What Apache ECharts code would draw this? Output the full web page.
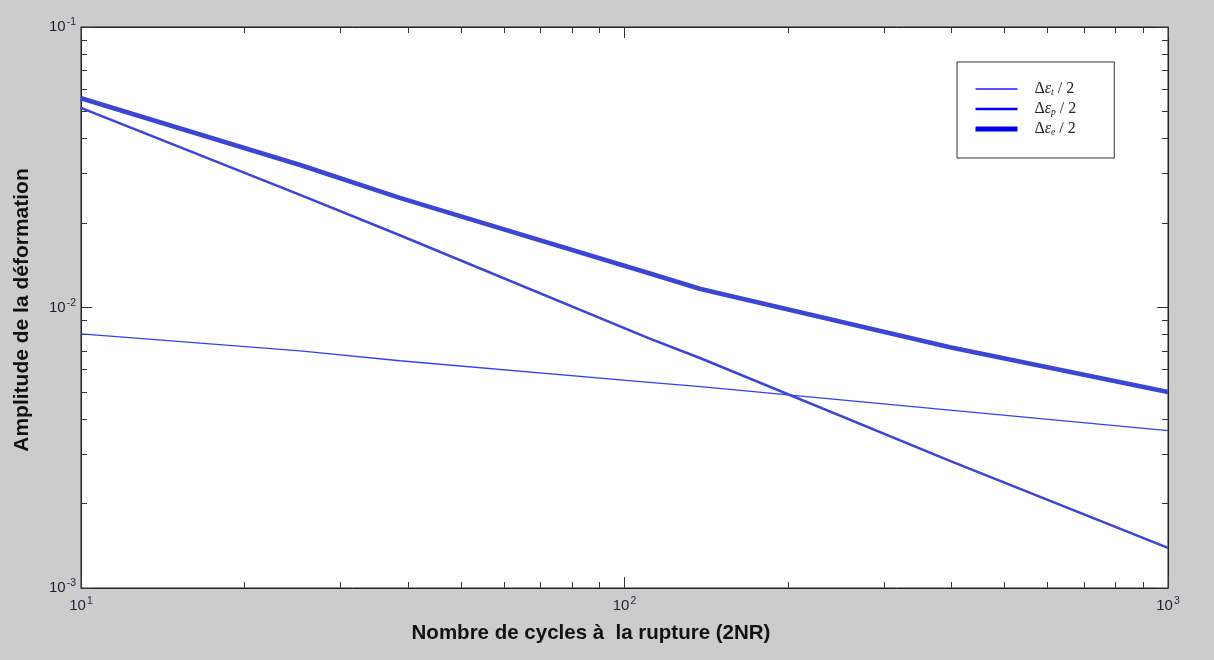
<!DOCTYPE html>
<html>
<head>
<meta charset="utf-8">
<script src="https://cdn.jsdelivr.net/npm/echarts@6/dist/echarts.min.js"></script>
<style>
  html, body { margin: 0; padding: 0; background: #cccccc; }
  #chart { width: 1214px; height: 660px; }
</style>
</head>
<body>
<div id="chart"></div>
<script>
// Number of cycles to failure (2NR) at sampled points
const cycles = [10, 25.3, 38.6, 111, 138, 397, 1000];
// Strain amplitude curves
const strainT = [0.00805, 0.00700, 0.00646, 0.00541, 0.00522, 0.00431, 0.00364];
const strainP = [0.0515, 0.0252, 0.0181, 0.00776, 0.00659, 0.00284, 0.00139];
const strainE = [0.0557, 0.0322, 0.0246, 0.01324, 0.01164, 0.00721, 0.00500];

const seriesNames = ['eps_t', 'eps_p', 'eps_e'];
const legendSub = { eps_t: 't', eps_p: 'p', eps_e: 'e' };

// Decade and minor tick positions
const xMajor = [10, 100, 1000];
const xMinor = [20, 30, 40, 50, 60, 70, 80, 90, 200, 300, 400, 500, 600, 700, 800, 900];
const yMajor = [0.001, 0.01, 0.1];
const yMinor = [0.002, 0.003, 0.004, 0.005, 0.006, 0.007, 0.008, 0.009,
                0.02, 0.03, 0.04, 0.05, 0.06, 0.07, 0.08, 0.09];

const pairs = (xs, ys) => xs.map((x, i) => [x, ys[i]]);

const labelFont = 'Liberation Sans, Arial, sans-serif';
const powLabel = v => {
  const e = Math.round(Math.log10(v));
  return '{b|10}{s|' + e + '}';
};
const powRich = {
  b: { fontSize: 15, fontFamily: labelFont, color: '#1f1f3a', lineHeight: 20, verticalAlign: 'middle' },
  s: { fontSize: 10.5, fontFamily: labelFont, color: '#1f1f3a', lineHeight: 10, verticalAlign: 'top', padding: [0, 0, 0, 1] }
};

function xAxisDef(position, major, showLabel, ticks, len) {
  return {
    type: 'log', logBase: 10, min: 10, max: 1000, position: position,
    axisLine: { show: major, lineStyle: { color: '#222', width: 1 } },
    axisTick: { show: true, inside: true, length: len, customValues: ticks,
                lineStyle: { color: '#333', width: 1 } },
    axisLabel: showLabel ? { show: true, margin: 8, formatter: powLabel, rich: powRich, customValues: xMajor }
                         : { show: false },
    splitLine: { show: false }, minorTick: { show: false }
  };
}
function yAxisDef(position, major, showLabel, ticks, len) {
  return {
    type: 'log', logBase: 10, min: 0.001, max: 0.1, position: position,
    axisLine: { show: major, lineStyle: { color: '#222', width: 1 } },
    axisTick: { show: true, inside: true, length: len, customValues: ticks,
                lineStyle: { color: '#333', width: 1 } },
    axisLabel: showLabel ? { show: true, margin: 5, formatter: powLabel, rich: powRich, customValues: yMajor }
                         : { show: false },
    splitLine: { show: false }, minorTick: { show: false }
  };
}

const chart = echarts.init(document.getElementById('chart'), null, { renderer: 'canvas' });

const serif = 'Liberation Serif, Times New Roman, serif';
const legendRich = {
  d: { fontFamily: serif, fontSize: 16, color: '#222', lineHeight: 16, verticalAlign: 'middle' },
  g: { fontFamily: serif, fontSize: 16, fontStyle: 'italic', color: '#222', lineHeight: 16, verticalAlign: 'middle' },
  u: { fontFamily: serif, fontSize: 9.5, fontStyle: 'italic', color: '#222', lineHeight: 10, verticalAlign: 'bottom' }
};
// legend keys show only the line stroke, no marker
const noMarker = { color: 'rgba(0,0,0,0)', opacity: 0, borderWidth: 0 };

chart.setOption({
  backgroundColor: '#cccccc',
  animation: false,
  grid: {
    left: 81, right: 46, top: 27, bottom: 72,
    show: true, backgroundColor: '#ffffff', borderColor: '#222', borderWidth: 1,
    containLabel: false
  },
  xAxis: [
    xAxisDef('bottom', true, true, xMajor, 11),
    xAxisDef('bottom', false, false, xMinor, 6),
    xAxisDef('top', true, false, xMajor, 11),
    xAxisDef('top', false, false, xMinor, 6)
  ],
  yAxis: [
    yAxisDef('left', true, true, yMajor, 11),
    yAxisDef('left', false, false, yMinor, 6),
    yAxisDef('right', true, false, yMajor, 11),
    yAxisDef('right', false, false, yMinor, 6)
  ],
  legend: {
    orient: 'vertical',
    left: 957, top: 62,
    padding: [19, 38, 21, 16],
    itemGap: 4,
    itemWidth: 42, itemHeight: 14,
    backgroundColor: '#ffffff',
    borderColor: '#333', borderWidth: 1,
    data: [
      { name: 'eps_t', itemStyle: noMarker, lineStyle: { color: '#1a1aff', width: 1.3 } },
      { name: 'eps_p', itemStyle: noMarker, lineStyle: { color: '#0000ee', width: 2.5 } },
      { name: 'eps_e', itemStyle: noMarker, lineStyle: { color: '#0000ee', width: 5 } }
    ],
    formatter: name => '{d|   Δ}{g|ε}{u|' + legendSub[name] + '}{d| / 2}',
    textStyle: { rich: legendRich },
    selectedMode: false
  },
  graphic: [
    {
      type: 'text',
      x: 591, y: 633,
      style: {
        text: 'Nombre de cycles à  la rupture (2NR)',
        fontFamily: 'Liberation Sans, Arial, sans-serif', fontWeight: 'bold', fontSize: 20.5,
        fill: '#111', align: 'center', verticalAlign: 'middle'
      }
    },
    {
      type: 'text',
      rotation: Math.PI / 2,
      x: 22, y: 310,
      style: {
        text: 'Amplitude de la déformation',
        fontFamily: 'Liberation Sans, Arial, sans-serif', fontWeight: 'bold', fontSize: 21,
        fill: '#111', align: 'center', verticalAlign: 'middle'
      }
    }
  ],
  series: [
    {
      name: seriesNames[0], type: 'line', data: pairs(cycles, strainT),
      xAxisIndex: 0, yAxisIndex: 0, symbol: 'none', silent: true,
      lineStyle: { color: '#3342ee', width: 1.3 }, itemStyle: { color: '#3342ee' }, z: 4
    },
    {
      name: seriesNames[1], type: 'line', data: pairs(cycles, strainP),
      xAxisIndex: 0, yAxisIndex: 0, symbol: 'none', silent: true,
      lineStyle: { color: '#3d45d4', width: 2.6 }, itemStyle: { color: '#3d45d4' }, z: 3
    },
    {
      name: seriesNames[2], type: 'line', data: pairs(cycles, strainE),
      xAxisIndex: 0, yAxisIndex: 0, symbol: 'none', silent: true,
      lineStyle: { color: '#3d45d4', width: 4.6 }, itemStyle: { color: '#3d45d4' }, z: 2
    }
  ]
});
</script>
</body>
</html>
